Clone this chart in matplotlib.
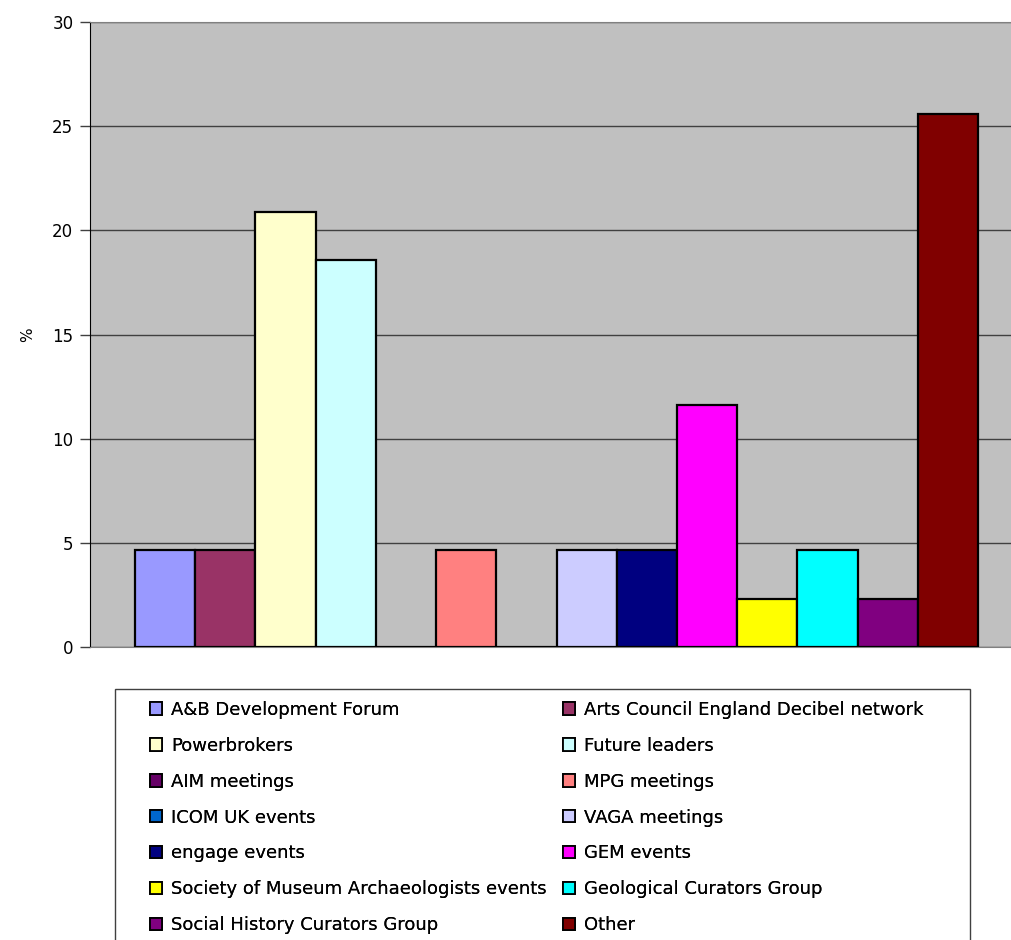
import matplotlib
matplotlib.use('Agg')
import matplotlib.pyplot as plt
from matplotlib.patches import Patch, Rectangle

labels = [
    'A&B Development Forum', 'Arts Council England Decibel network',
    'Powerbrokers', 'Future leaders', 'AIM meetings', 'MPG meetings',
    'ICOM UK events', 'VAGA meetings', 'engage events', 'GEM events',
    'Society of Museum Archaeologists events', 'Geological Curators Group',
    'Social History Curators Group', 'Other',
]
values = [4.65, 4.65, 20.9, 18.6, 0, 4.65, 0, 4.65, 4.65, 11.6, 2.3, 4.65, 2.3, 25.6]
colors = ['#9999FF', '#993366', '#FFFFCC', '#CCFFFF', '#660066', '#FF8080',
          '#0066CC', '#CCCCFF', '#000080', '#FF00FF', '#FFFF00', '#00FFFF',
          '#800080', '#800000']

W, H = 1012, 940
fig = plt.figure(figsize=(W / 100, H / 100), dpi=100)
ax = fig.add_axes([90 / W, (H - 647) / H, (1023 - 90) / W, (647 - 22) / H])
ax.set_facecolor('#C0C0C0')

x = list(range(len(values)))
ax.bar(x, values, width=1.0, color=colors, edgecolor='black', linewidth=1.6, zorder=3)

pad = 45 / 60.2
ax.set_xlim(-0.5 - pad, len(values) - 0.5 + pad)
ax.set_ylim(0, 30)
ax.set_yticks(range(0, 31, 5))
ax.yaxis.grid(True, color='#404040', linewidth=1, zorder=1)
ax.set_xticks([])
ax.tick_params(axis='y', length=7, width=1, color='#404040', labelsize=12, pad=5)
ax.spines['left'].set_color('black')
ax.spines['top'].set_color('#808080')
ax.spines['bottom'].set_color('#808080')
ax.spines['right'].set_visible(False)
ax.set_ylabel('%', fontsize=11, labelpad=12)

# legend frame, open at the bottom edge of the figure
fig.patches.append(Rectangle((115 / W, -0.05), (970 - 115) / W, 0.05 + (H - 689) / H,
                             transform=fig.transFigure, facecolor='white',
                             edgecolor='#404040', linewidth=1, zorder=0))

handles = [Patch(facecolor=c, edgecolor='black', linewidth=1.3) for c in colors]
for col, xpos in enumerate([150, 563]):
    idx = list(range(col, 14, 2))
    leg = fig.legend([handles[i] for i in idx], [labels[i] for i in idx],
                     loc='upper left', bbox_to_anchor=(xpos / W, 1 - 701 / H),
                     fontsize=13, frameon=False,
                     handlelength=0.68, handleheight=0.68, handletextpad=0.5,
                     labelspacing=0.99, borderpad=0, borderaxespad=0)
    fig.add_artist(leg)

fig.savefig('out.png', dpi=100)
